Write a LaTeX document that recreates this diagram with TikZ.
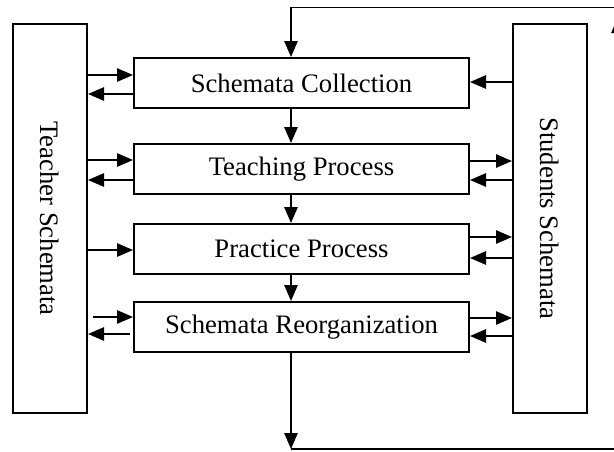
\documentclass[tikz,border=0pt]{standalone}
\usepackage{fontspec}
\setmainfont{Liberation Serif}
\usetikzlibrary{arrows.meta}
\tikzset{
  boite/.style={draw, line width=1.5pt, minimum width=251.25pt, minimum height=37.5pt, inner sep=0pt, font=\fontsize{20}{24}\selectfont},
  pilier/.style={draw, line width=1.5pt, minimum width=55.5pt, minimum height=291.75pt, inner sep=0pt},
  fleche/.style={line width=1.3pt, -{Triangle[length=12pt,width=10pt]}},
  trait/.style={line width=1.3pt}
}
\begin{document}
\begin{tikzpicture}[x=0.75pt,y=-0.75pt]
  \clip (0,0) rectangle (614,451);
  % les deux piliers
  \node[pilier, label={[rotate=-90, font=\fontsize{20}{24}\selectfont]center:Teacher Schemata}] (teacher) at (50,218.5) {};
  \node[pilier, label={[rotate=-90, font=\fontsize{20}{24}\selectfont]center:Students Schemata}] (students) at (550,218.5) {};
  % les etapes
  \node[boite] (collect) at (301.5,83) {Schemata Collection};
  \node[boite] (teach) at (301.5,169) {Teaching Process};
  \node[boite] (practice) at (301.5,249) {Practice Process};
  \node[boite] (reorg) at (301.5,327) {Schemata Reorganization};
  \coordinate (axe) at (291,0);
  \draw[fleche] (collect.south -| axe) -- (teach.north -| axe);
  \draw[fleche] (teach.south -| axe) -- (practice.north -| axe);
  \draw[fleche] (practice.south -| axe) -- (reorg.north -| axe);
  % cote enseignant
  \draw[fleche] (teacher.east |- 0,75) -- (collect.west |- 0,75);
  \draw[fleche] (collect.west |- 0,94) -- (teacher.east |- 0,94);
  \draw[fleche] (teacher.east |- 0,160) -- (teach.west |- 0,160);
  \draw[fleche] (teach.west |- 0,180) -- (teacher.east |- 0,180);
  \draw[fleche] (teacher.east |- 0,250) -- (practice.west |- 0,250);
  \draw[fleche] (93,317) -- (reorg.west |- 0,317);
  \draw[fleche] (130,334) -- (teacher.east |- 0,334);
  % cote eleves
  \draw[fleche] (students.west |- 0,82) -- (collect.east |- 0,82);
  \draw[fleche] (teach.east |- 0,161) -- (students.west |- 0,161);
  \draw[fleche] (students.west |- 0,180) -- (teach.east |- 0,180);
  \draw[fleche] (practice.east |- 0,237) -- (students.west |- 0,237);
  \draw[fleche] (students.west |- 0,258) -- (practice.east |- 0,258);
  \draw[fleche] (reorg.east |- 0,318) -- (students.west |- 0,318);
  \draw[fleche] (students.west |- 0,336) -- (reorg.east |- 0,336);
  % boucle de retour
  \coordinate (bas) at (291,449);
  \coordinate (coinbd) at (618,449);
  \coordinate (monte) at (618,17);
  \coordinate (coinhd) at (618,7.5);
  \coordinate (haut) at (291,7.5);
  \draw[fleche] (reorg.south -| axe) -- (bas);
  \draw[fleche] (bas) -- (coinbd) -- (monte);
  \draw[fleche] (monte) -- (coinhd) -- (haut) -- (collect.north -| axe);
\end{tikzpicture}
\end{document}
